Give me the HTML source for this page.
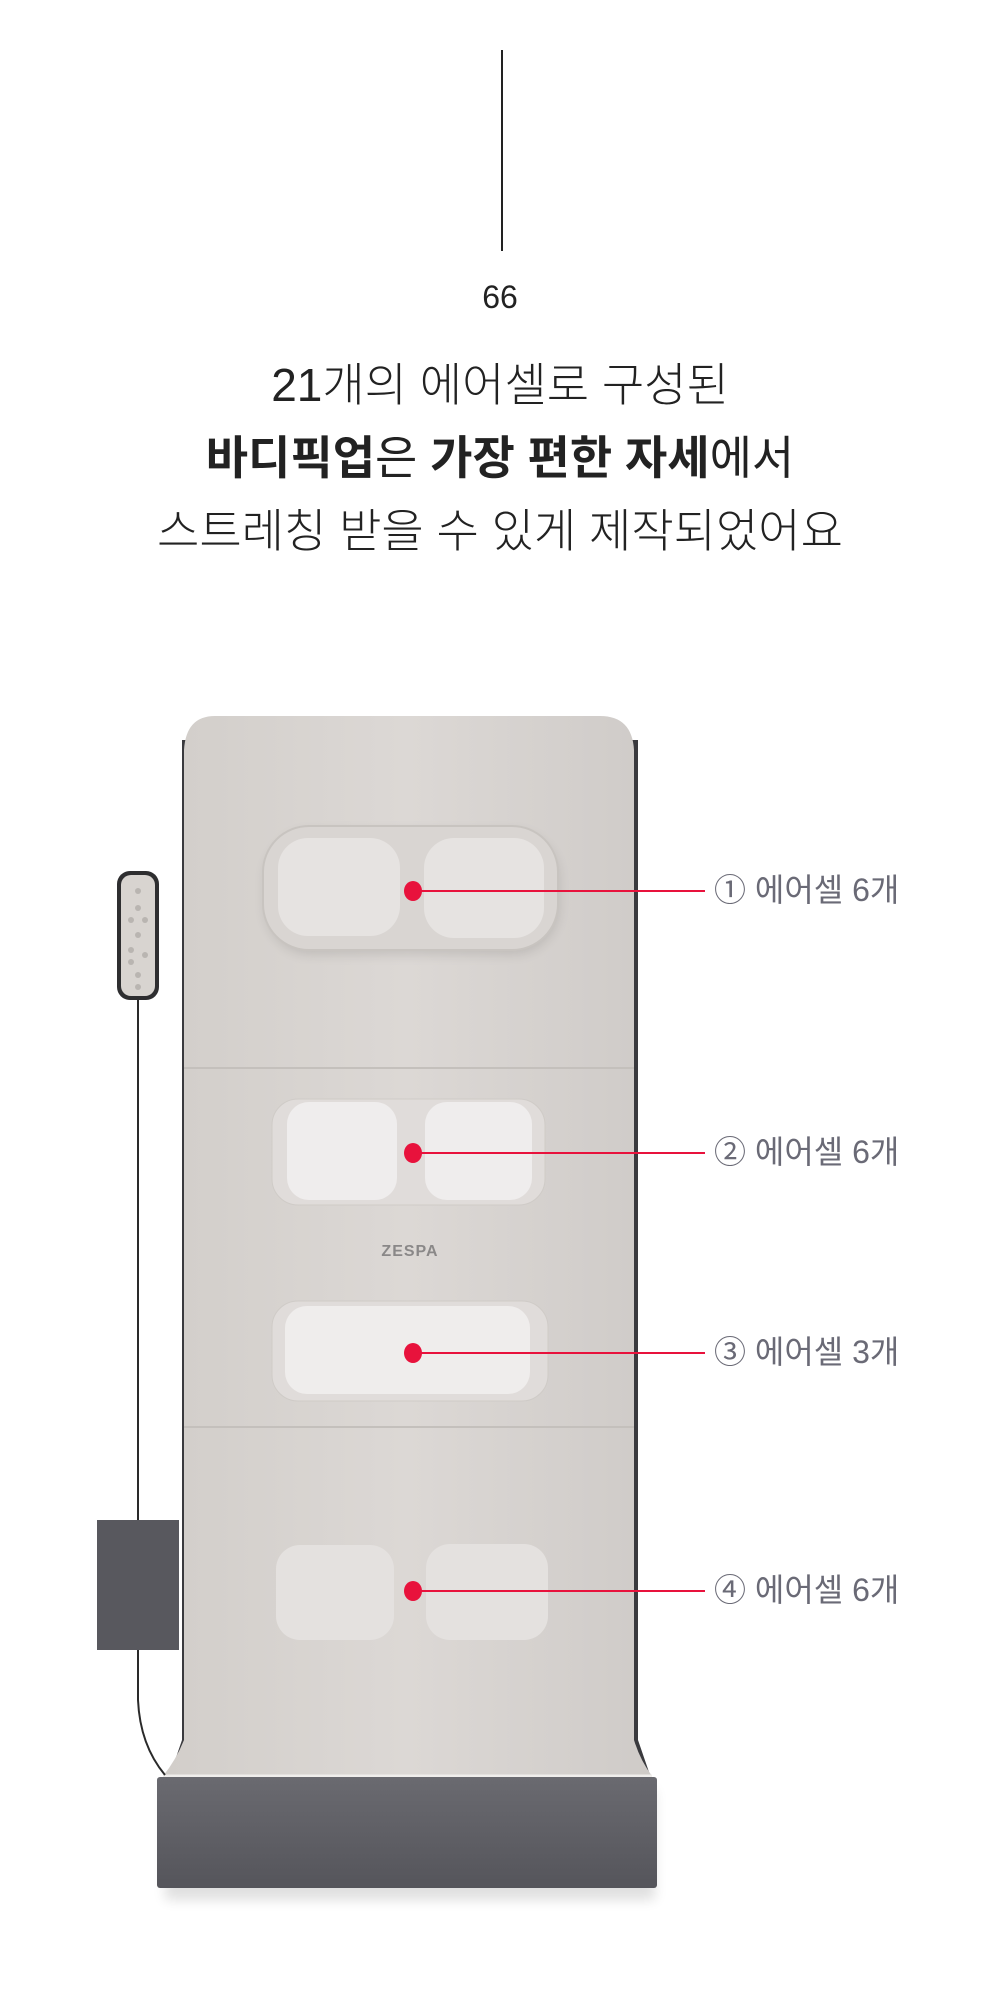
<!DOCTYPE html>
<html><head><meta charset="utf-8"><style>
html,body{margin:0;padding:0;background:#fff;}
body{width:1000px;height:2015px;position:relative;overflow:hidden;font-family:"Liberation Sans","Noto Sans CJK KR",sans-serif;}
.t{position:absolute;left:0;width:1000px;text-align:center;color:#222;white-space:nowrap;}
.lbl{position:absolute;left:714px;font-size:32px;color:#6a6a76;white-space:nowrap;line-height:1;}
</style></head><body>
<div style="position:absolute;left:501px;top:50px;width:2px;height:201px;background:#222"></div>
<div class="t" style="top:278px;font-size:32px;line-height:38px;">66</div>
<div class="t" style="top:356px;font-size:46px;line-height:58px;font-weight:300;">21개의 에어셀로 구성된</div>
<div class="t" style="top:429px;font-size:46px;line-height:58px;"><b>바디픽업</b>은 <b>가장 편한 자세</b>에서</div>
<div class="t" style="top:502px;font-size:46px;line-height:58px;font-weight:300;">스트레칭 받을 수 있게 제작되었어요</div>

<svg width="1000" height="2015" style="position:absolute;left:0;top:0" xmlns="http://www.w3.org/2000/svg">
<defs>
<linearGradient id="mat" x1="0" x2="1"><stop offset="0" stop-color="#d2ceca"/><stop offset="0.5" stop-color="#dcd8d5"/><stop offset="1" stop-color="#cfcbc8"/></linearGradient>
<linearGradient id="base" x1="0" y1="0" x2="0" y2="1"><stop offset="0" stop-color="#6a6a70"/><stop offset="1" stop-color="#55555b"/></linearGradient>
<filter id="sh" x="-20%" y="-20%" width="140%" height="140%"><feGaussianBlur stdDeviation="6"/></filter>
</defs>
<rect x="165" y="1790" width="490" height="110" fill="#000" opacity="0.12" filter="url(#sh)"/>
<path d="M182 740 L182 1740 L170 1775 L650 1775 L638 1740 L638 740 Z" fill="#3a3a3e"/>
<path d="M215 716 L600 716 Q632 716 634 750 L634 1740 Q640 1760 652 1776 L163 1776 Q176 1760 184 1740 L184 750 Q186 716 215 716 Z" fill="url(#mat)"/>
<line x1="184" y1="1068" x2="634" y2="1068" stroke="#c4c0bc" stroke-width="2"/>
<line x1="184" y1="1427" x2="634" y2="1427" stroke="#c4c0bc" stroke-width="2"/>
<line x1="163" y1="1776" x2="652" y2="1776" stroke="#f0eeec" stroke-width="3"/>
<rect x="157" y="1777" width="500" height="111" rx="3" fill="url(#base)"/>
<rect x="266" y="832" width="292" height="122" rx="46" fill="#000" opacity="0.12" filter="url(#sh)"/>
<rect x="263" y="826" width="295" height="124" rx="46" fill="#d9d5d2" stroke="#c8c4c0" stroke-width="2"/>
<rect x="278" y="838" width="122" height="98" rx="30" fill="#e6e3e1"/>
<rect x="424" y="838" width="120" height="100" rx="30" fill="#e6e3e1"/>
<rect x="272" y="1099" width="273" height="106" rx="26" fill="#e0dcda" stroke="#cfcbc7"/>
<rect x="287" y="1102" width="110" height="98" rx="22" fill="#efeded"/>
<rect x="425" y="1102" width="107" height="98" rx="22" fill="#efeded"/>
<text x="410" y="1256" text-anchor="middle" font-family="Liberation Sans, sans-serif" font-weight="bold" font-size="16" fill="#8a8888" letter-spacing="1">ZESPA</text>
<rect x="272" y="1301" width="276" height="100" rx="26" fill="#e0dcda" stroke="#cfcbc7"/>
<rect x="285" y="1306" width="245" height="88" rx="22" fill="#efedec"/>
<rect x="276" y="1545" width="118" height="95" rx="24" fill="#e4e1df"/>
<rect x="426" y="1544" width="122" height="96" rx="24" fill="#e4e1df"/>
<path d="M138 1000 L138 1700 Q140 1745 165 1775" fill="none" stroke="#2a2a2a" stroke-width="2"/>
<rect x="117" y="871" width="42" height="129" rx="13" fill="#2e2e30"/>
<rect x="121" y="875" width="34" height="121" rx="10" fill="#d8d4d0"/>
<g fill="#b9b5b1"><circle cx="138" cy="891" r="3"/><circle cx="138" cy="908" r="3"/><circle cx="131" cy="920" r="3"/><circle cx="145" cy="920" r="3"/><circle cx="138" cy="935" r="3"/><circle cx="131" cy="950" r="3"/><circle cx="131" cy="962" r="3"/><circle cx="145" cy="955" r="3"/><circle cx="138" cy="975" r="3"/><circle cx="138" cy="987" r="3"/></g>
<rect x="97" y="1520" width="82" height="130" fill="#58585e"/>
<g stroke="#e8123c" stroke-width="2"><line x1="413" y1="891" x2="705" y2="891"/><line x1="413" y1="1153" x2="705" y2="1153"/><line x1="413" y1="1353" x2="705" y2="1353"/><line x1="413" y1="1591" x2="705" y2="1591"/></g>
<g fill="#e8123c"><ellipse cx="413" cy="891" rx="9" ry="10"/><ellipse cx="413" cy="1153" rx="9" ry="10"/><ellipse cx="413" cy="1353" rx="9" ry="10"/><ellipse cx="413" cy="1591" rx="9" ry="10"/></g>
</svg>
<div class="lbl" style="top:874px;">① 에어셀 6개</div>
<div class="lbl" style="top:1136px;">② 에어셀 6개</div>
<div class="lbl" style="top:1336px;">③ 에어셀 3개</div>
<div class="lbl" style="top:1574px;">④ 에어셀 6개</div>
</body></html>
